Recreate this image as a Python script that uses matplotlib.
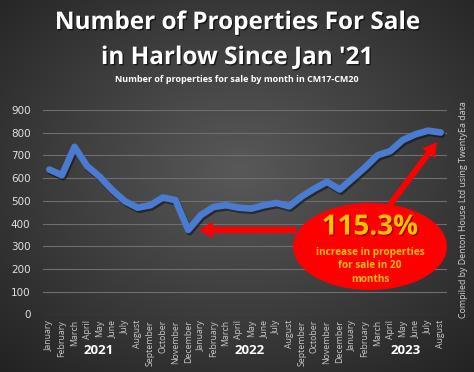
import matplotlib
matplotlib.use('Agg')

import numpy as np
import matplotlib.pyplot as plt
import matplotlib.patheffects as pe
from matplotlib.patches import Ellipse, FancyArrow

months = ['January', 'February', 'March', 'April', 'May', 'June', 'July',
          'August', 'September', 'October', 'November', 'December']
labels = months + months + months[:8]
years = ['2021', '2022', '2023']
year_pos = [3.9, 15.9, 28.2]

listings = [638, 613, 738, 653, 606, 547, 498, 470, 481, 515, 503, 372,
            437, 473, 481, 470, 466, 481, 491, 476, 520, 554, 584, 550,
            598, 647, 701, 719, 768, 793, 809, 801]

W, H = 474, 372
fig = plt.figure(figsize=(W / 100, H / 100), dpi=100)

# dark radial background
bg = fig.add_axes([0, 0, 1, 1])
yy, xx = np.mgrid[0:H, 0:W]
r = np.sqrt(((xx - 240) / 330.0) ** 2 + ((yy - 170) / 260.0) ** 2)
shade = np.clip(0.35 - 0.2 * r, 0.12, 0.37)
bg.imshow(shade, cmap='gray', vmin=0, vmax=1, aspect='auto')
bg.axis('off')

ax = fig.add_axes([43 / W, 1 - 314.5 / H, 404 / W, 204.5 / H])
ax.patch.set_alpha(0)
x = np.arange(len(listings))
ax.plot(x, listings, color='#4a7bd0', lw=4.8, solid_joinstyle='round',
        solid_capstyle='round', zorder=5,
        path_effects=[pe.SimpleLineShadow(offset=(1, -1.5), shadow_color='#111111', alpha=0.6),
                      pe.Normal()])
ax.set_xlim(-0.5, len(listings) - 0.5)
ax.set_ylim(0, 900)
ax.set_yticks(range(0, 1000, 100))
ax.set_yticklabels([str(v) for v in range(0, 1000, 100)], color='#e0e0e0',
                   fontsize=7.5)
ax.set_xticks(x)
ax.set_xticklabels(labels, rotation=90, color='#c8c8c8', fontsize=6.3,
                   family='Open Sans')
ax.tick_params(length=0, pad=4)
ax.tick_params(axis='y', pad=9)
ax.grid(axis='y', color='#6e6e6e', lw=0.8)
for s in ax.spines.values():
    s.set_visible(False)

for yr, p in zip(years, year_pos):
    ax.text(p, -0.175, yr, transform=ax.get_xaxis_transform(), ha='center',
            va='center', color='white', fontsize=9.5, fontweight='bold',
            family='Open Sans')

# titles
shadow = [pe.withSimplePatchShadow(offset=(1, -1), shadow_rgbFace='black', alpha=0.6)]
fig.text(0.5, 1 - 23 / H, 'Number of Properties For Sale', ha='center', va='center',
         color='white', fontsize=17.5, fontweight='bold', family='Open Sans',
         path_effects=shadow)
fig.text(0.5, 1 - 58 / H, "in Harlow Since Jan '21", ha='center', va='center',
         color='white', fontsize=17.5, fontweight='bold', family='Open Sans',
         path_effects=shadow)
fig.text(0.5, 1 - 80 / H, 'Number of properties for sale by month in CM17-CM20',
         ha='center', va='center', color='white', fontsize=6.5, fontweight='bold',
         family='Open Sans')

fig.text(464 / W, 1 - 210 / H, 'Compiled by Denton House Ltd using TwentyEa data',
         rotation=90, ha='center', va='center', color='#d0d0d0', fontsize=6.4,
         family='Open Sans')

# callout
ann = fig.add_axes([0, 0, 1, 1])
ann.set_xlim(0, W)
ann.set_ylim(H, 0)
ann.axis('off')
ann.add_patch(FancyArrow(296, 230, -97, 0, width=6.5, head_width=17, head_length=14,
                         length_includes_head=True, color='#ff0000', lw=0))
ann.add_patch(FancyArrow(389, 206, 48, -64, width=6, head_width=16, head_length=14,
                         length_includes_head=True, color='#ff0000', lw=0))
ann.add_patch(Ellipse((370, 246.5), 154, 87, color='#ff0000', lw=0))
ann.text(370, 227, '115.3%', ha='center', va='center', color='#ffc000',
         fontsize=20, fontweight='bold', family='Open Sans',
         path_effects=[pe.withSimplePatchShadow(offset=(1, -1), shadow_rgbFace='#800000', alpha=0.7)])
ann.text(370, 266, 'increase in properties\nfor sale in 20\nmonths', ha='center',
         va='center', color='#ffc000', fontsize=7.2, fontweight='bold',
         family='Open Sans', linespacing=1.25)

fig.savefig('out.png', dpi=100)
